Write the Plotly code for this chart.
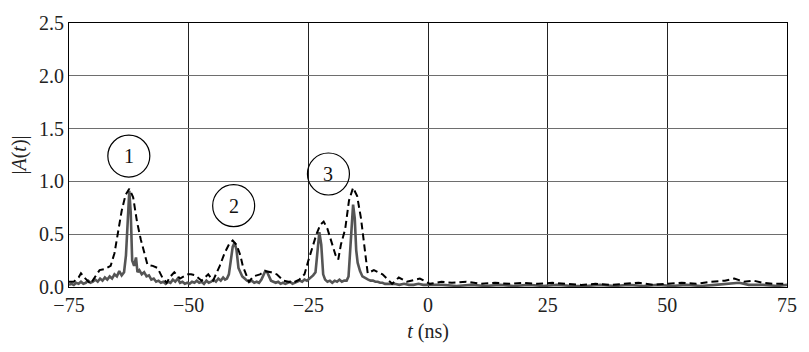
import plotly.graph_objects as go

# Dashed (black) envelope
t_dash = [-75, -74, -73, -72.5, -71.8, -70.5, -69.5, -68.6, -67.5, -66.3, -65.5, -64.8, -64.0, -63.2, -62.4,
          -61.6, -60.8, -60.0, -59.2, -58.6, -57.5, -56.5, -55.5, -54.6, -53.8, -53.0, -51.8, -50.3, -49.5,
          -48.6, -47.3, -45.9, -44.9, -43.5, -42.5, -41.5, -40.8, -40.0, -39.2, -38.7, -37.4, -36.5, -35.1,
          -34.0, -32.8, -31.6, -30.2, -28.2, -26.9, -25.8, -25.0, -24.0, -23.3, -22.5, -21.8, -21.0, -20.0,
          -19.3, -18.75, -18.2, -17.3, -16.5, -15.65, -14.8, -14.0, -13.6, -13.0, -12.6, -11.3, -9.5, -7.5,
          -6.1, -4.4, -1.7, 0.4, 2.8, 5, 8, 11, 14, 17, 20, 23, 26, 29, 32, 35, 38, 41, 44, 47, 50, 53, 56,
          59, 62, 64, 66, 68, 70, 72, 75]
a_dash = [0.05, 0.05, 0.09, 0.13, 0.09, 0.03, 0.10, 0.16, 0.17, 0.20, 0.32, 0.52, 0.72, 0.87, 0.93,
          0.85, 0.62, 0.45, 0.30, 0.21, 0.20, 0.18, 0.09, 0.04, 0.10, 0.14, 0.08, 0.12, 0.12,
          0.11, 0.06, 0.12, 0.06, 0.20, 0.32, 0.41, 0.44, 0.40, 0.30, 0.20, 0.05, 0.10, 0.12,
          0.15, 0.14, 0.12, 0.06, 0.04, 0.07, 0.12, 0.25, 0.40, 0.50, 0.59, 0.62, 0.55, 0.40,
          0.30, 0.26, 0.40, 0.55, 0.82, 0.94, 0.86, 0.65, 0.50, 0.28, 0.13, 0.16, 0.12, 0.03,
          0.09, 0.05, 0.08, 0.03, 0.05, 0.04, 0.05, 0.03, 0.04, 0.03, 0.04, 0.03, 0.04, 0.03, 0.02, 0.03, 0.02,
          0.03, 0.04, 0.02, 0.03, 0.04, 0.03, 0.05, 0.06, 0.08, 0.05, 0.06, 0.04, 0.03, 0.03]

# Solid (gray) signal
t_sol = [-75, -74.5, -74, -73.5, -73, -72.5, -72, -71.5, -71, -70.5, -70, -69.5, -69, -68.5, -68, -67.5,
         -67, -66.5, -66, -65.5, -65, -64.5, -64, -63.5, -63.1, -62.7, -62.4, -62.1, -61.8, -61.4, -61.0,
         -60.7, -60.3, -59.8, -59.3, -58.8, -58.3, -57.8, -57.3, -56.8, -56.3, -55.8, -55.3, -54.8, -54.3,
         -53.8, -53.3, -52.8, -52.3, -51.8, -51.3, -50.8, -50.3, -49.8, -49.3, -48.8, -48.3, -47.8, -47.3,
         -46.8, -46.3, -45.8, -45.3, -44.8, -44.3, -43.8, -43.3, -42.8, -42.4, -42.0, -41.6, -41.2, -40.8,
         -40.4, -40.0, -39.6, -39.2, -38.8, -38.3, -37.8, -37.3, -36.8, -36.3, -35.8, -35.3, -34.8, -34.4,
         -34.0, -33.6, -33.2, -32.8, -32.3, -31.8, -31.3, -30.8, -30.3, -29.8, -29.3, -28.8, -28.3, -27.8,
         -27.3, -26.8, -26.3, -25.8, -25.3, -24.8, -24.4, -24.0, -23.5, -23.1, -22.7, -22.3, -21.9, -21.5,
         -21.0, -20.5, -20.0, -19.5, -19.0, -18.5, -18.0, -17.5, -17.0, -16.6, -16.2, -15.9, -15.65, -15.3,
         -15.0, -14.7, -14.2, -13.7, -13.0, -12.5, -12.0, -11.5, -11.0, -10.5, -10.0, -9.5, -9.0, -8.0,
         -7.0, -6.0, -5.0, -4.0, -3.0, -2.0, -1.0, 0, 3, 6, 9, 12, 15, 18, 21, 24, 27, 30, 33, 36, 39, 42,
         45, 48, 51, 54, 57, 60, 63, 65, 67, 70, 73, 75]
a_sol = [0.02, 0.03, 0.02, 0.04, 0.03, 0.05, 0.03, 0.04, 0.06, 0.04, 0.05, 0.07, 0.05, 0.08, 0.06, 0.09,
         0.07, 0.10, 0.08, 0.12, 0.10, 0.15, 0.11, 0.14, 0.30, 0.75, 0.91, 0.70, 0.25, 0.20, 0.28,
         0.14, 0.16, 0.12, 0.14, 0.10, 0.11, 0.07, 0.08, 0.05, 0.06, 0.04, 0.05, 0.03, 0.05,
         0.04, 0.07, 0.05, 0.08, 0.04, 0.05, 0.03, 0.04, 0.03, 0.05, 0.04, 0.06, 0.04, 0.05,
         0.03, 0.06, 0.04, 0.05, 0.07, 0.05, 0.08, 0.06, 0.09, 0.07, 0.08, 0.12, 0.25, 0.38,
         0.42, 0.35, 0.18, 0.14, 0.10, 0.08, 0.06, 0.05, 0.06, 0.04, 0.05, 0.04, 0.07, 0.11,
         0.15, 0.14, 0.10, 0.06, 0.05, 0.04, 0.05, 0.03, 0.04, 0.03, 0.04, 0.05, 0.03, 0.04,
         0.05, 0.06, 0.05, 0.07, 0.06, 0.08, 0.10, 0.11, 0.14, 0.30, 0.52, 0.40, 0.12, 0.07,
         0.05, 0.06, 0.04, 0.06, 0.05, 0.07, 0.05, 0.06, 0.06, 0.10, 0.40, 0.70, 0.78, 0.65,
         0.35, 0.23, 0.15, 0.10, 0.08, 0.07, 0.06, 0.06, 0.05, 0.05, 0.04, 0.04, 0.03, 0.03,
         0.03, 0.02, 0.03, 0.02, 0.02, 0.03, 0.02, 0.02, 0.02, 0.01, 0.02, 0.01, 0.02, 0.01, 0.02, 0.01, 0.02, 0.01, 0.01, 0.02, 0.01, 0.02,
         0.01, 0.02, 0.01, 0.02, 0.01, 0.02, 0.03, 0.04, 0.02, 0.02, 0.01, 0.02]

# Circled peak labels
label_text = ["1", "2", "3"]
label_t = [-62.5, -40.6, -20.8]
label_a = [1.24, 0.77, 1.07]

x_ticks = [-75, -50, -25, 0, 25, 50, 75]
x_tick_text = ["\u221275", "\u221250", "\u221225", "0", "25", "50", "75"]
y_ticks = [0.0, 0.5, 1.0, 1.5, 2.0, 2.5]

FONT = "Liberation Serif"

fig = go.Figure()
fig.add_trace(go.Scatter(x=t_sol, y=a_sol, mode="lines",
                         line=dict(color="#555555", width=2.6), showlegend=False))
fig.add_trace(go.Scatter(x=t_dash, y=a_dash, mode="lines",
                         line=dict(color="black", width=2, dash="7px,4px"), showlegend=False))

for txt, tx, ay in zip(label_text, label_t, label_a):
    fig.add_shape(type="circle", xref="x", yref="y", xsizemode="pixel", ysizemode="pixel",
                  xanchor=tx, yanchor=ay, x0=-21, x1=21, y0=-21, y1=21,
                  line=dict(color="black", width=1.2), fillcolor="rgba(0,0,0,0)")
    fig.add_annotation(x=tx, y=ay, text=txt, showarrow=False,
                       font=dict(family=FONT, size=20, color="#111"))

fig.update_layout(
    width=809, height=352,
    margin=dict(l=69, r=12, t=15, b=65),
    paper_bgcolor="white", plot_bgcolor="white",
    font=dict(family=FONT, size=20, color="#222"),
)
fig.update_xaxes(range=[-75, 75], tickvals=x_ticks, ticktext=x_tick_text,
                 showgrid=True, gridcolor="#222", gridwidth=1, zeroline=False,
                 showline=True, linecolor="black", linewidth=1.2, mirror=True,
                 ticks="", title=dict(text="<i>t</i> (ns)", standoff=8, font=dict(size=20)))
fig.update_yaxes(range=[0, 2.5], tickvals=y_ticks, tickformat=".1f",
                 showgrid=True, gridcolor="#6e6e6e", gridwidth=1, zeroline=False,
                 showline=True, linecolor="black", linewidth=1.2, mirror=True,
                 ticks="", title=dict(text="|<i>A</i>(<i>t</i>)|", standoff=6, font=dict(size=20)))

fig.write_html("out.html", config={"displayModeBar": False},
               post_script="document.body.style.margin='0';document.body.style.overflow='hidden';")
